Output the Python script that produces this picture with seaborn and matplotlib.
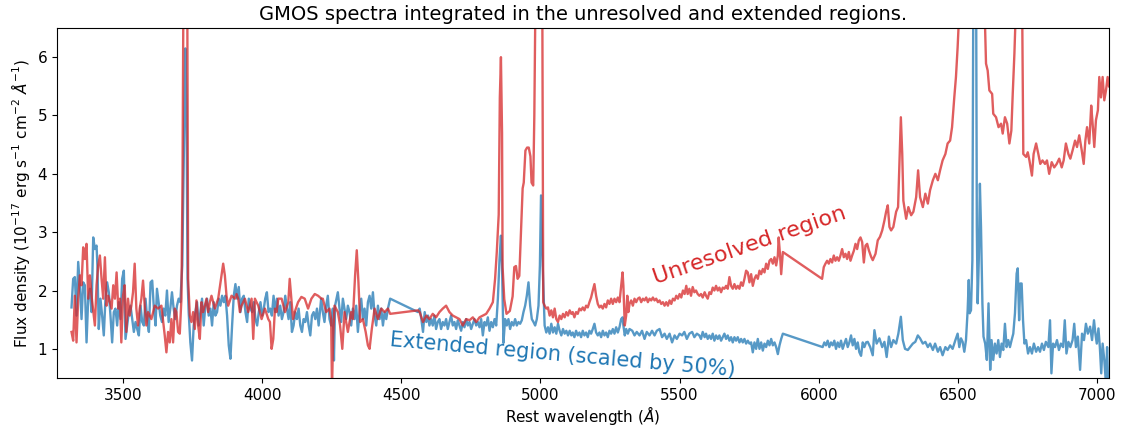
import matplotlib
matplotlib.use("Agg")
import matplotlib.pyplot as plt
import seaborn as sns
import pandas as pd

# ---- Unresolved region spectrum (wavelength in Angstrom, flux in 1e-17 erg/s/cm2/A)
red_wl = [3315, 3321, 3327, 3333, 3339, 3345, 3351, 3357, 3363, 3369, 3375, 3381, 3387, 3399, 3405, 3411,
          3417, 3423, 3429, 3435, 3441, 3447, 3459, 3465, 3471, 3477, 3483, 3489, 3494, 3500, 3506, 3512,
          3518, 3524, 3530, 3536, 3542, 3548, 3554, 3560, 3566, 3572, 3578, 3584, 3590, 3602, 3614, 3626,
          3638, 3650, 3656, 3662, 3668, 3674, 3680, 3686, 3692, 3698, 3704, 3710, 3714, 3718, 3726, 3731,
          3734, 3740, 3746, 3752, 3758, 3764, 3770, 3776, 3782, 3788, 3794, 3800, 3806, 3812, 3818, 3830,
          3842, 3854, 3860, 3866, 3872, 3878, 3890, 3902, 3908, 3914, 3920, 3926, 3938, 3950, 3962, 3968,
          3974, 3986, 3998, 4010, 4022, 4028, 4034, 4040, 4046, 4052, 4058, 4070, 4082, 4094, 4099, 4105,
          4111, 4117, 4129, 4141, 4153, 4165, 4177, 4189, 4201, 4213, 4218, 4230, 4242, 4248, 4251, 4255,
          4260, 4272, 4280, 4288, 4296, 4308, 4320, 4326, 4334, 4340, 4346, 4352, 4362, 4372, 4380, 4386,
          4394, 4404, 4416, 4428, 4440, 4452, 4460, 4560, 4566, 4578, 4590, 4601, 4613, 4625, 4637, 4649,
          4661, 4673, 4685, 4697, 4709, 4721, 4733, 4745, 4757, 4769, 4781, 4793, 4805, 4817, 4829, 4837,
          4843, 4850, 4854, 4858, 4862, 4864, 4870, 4878, 4890, 4900, 4906, 4912, 4918, 4924, 4930, 4936,
          4940, 4946, 4952, 4958, 4964, 4968, 4974, 4978, 4982, 4990, 5000, 5006, 5010,
          5015, 5021, 5027, 5033, 5039, 5045, 5051, 5057, 5063, 5069, 5075, 5081, 5087, 5093, 5099, 5105,
          5111, 5116, 5122, 5128, 5134, 5140, 5146, 5152, 5158, 5164, 5170, 5176, 5182, 5188, 5194, 5200,
          5206, 5212, 5218, 5224, 5230, 5236, 5242, 5248, 5254, 5260, 5266, 5272, 5278, 5284, 5290, 5295,
          5298, 5303, 5308, 5312, 5316, 5320, 5326, 5332, 5338, 5344, 5350, 5356, 5362, 5368, 5374, 5380,
          5386, 5392, 5398, 5404, 5410, 5416, 5422, 5428, 5434, 5440, 5446, 5452, 5458, 5464, 5470, 5476,
          5482, 5488, 5494, 5500, 5506, 5512, 5518, 5524, 5529, 5535, 5541, 5547, 5553, 5559, 5565, 5571,
          5577, 5583, 5590, 5595, 5601, 5607, 5613, 5619, 5625, 5631, 5637, 5643, 5649, 5655, 5661, 5667,
          5673, 5679, 5685, 5691, 5697, 5703, 5709, 5715, 5721, 5727, 5733, 5739, 5745, 5751, 5757, 5763,
          5769, 5775, 5781, 5787, 5793, 5799, 5805, 5811, 5817, 5823, 5829, 5835, 5841, 5847, 5853, 5856,
          5861, 5865, 5871, 6012, 6018, 6024, 6030, 6036, 6042, 6048, 6054, 6060, 6066, 6072, 6078, 6084,
          6090, 6096, 6102, 6108, 6114, 6120, 6126, 6132, 6138, 6144, 6150, 6156, 6162, 6168, 6174,
          6180, 6188, 6194, 6204, 6212, 6220, 6228, 6236, 6242, 6248, 6254, 6260,
          6268, 6278, 6285, 6290, 6295, 6300, 6304, 6314, 6322, 6332, 6340, 6350, 6357, 6364, 6374, 6383,
          6392, 6400, 6410, 6419, 6428, 6436, 6445, 6455, 6463, 6472, 6479, 6487, 6493, 6499, 6505, 6520,
          6540, 6560, 6580, 6595, 6601, 6607, 6613, 6623, 6627, 6637, 6646, 6655, 6661, 6669, 6677, 6685,
          6692, 6697, 6703, 6708, 6716, 6725, 6731, 6735, 6745, 6751, 6757, 6766, 6772, 6781, 6789, 6796,
          6804, 6813, 6820, 6828, 6837, 6846, 6855, 6864, 6873, 6880, 6888, 6897, 6904, 6912, 6921, 6928,
          6936, 6945, 6952, 6958, 6964, 6972, 6979, 6984, 6990, 6996, 7003, 7008, 7014, 7020, 7026, 7032,
          7038, 7043]
red_flux = [1.29, 1.14, 1.91, 1.11, 1.86, 2.26, 2.09, 2.74, 2.54, 2.80, 1.86, 2.26, 1.91, 1.40, 2.09, 2.43,
            2.60, 2.20, 1.86, 2.57, 1.74, 1.91, 1.69, 2.09, 1.86, 2.31, 1.69, 1.86, 1.11, 1.91, 2.09, 1.29,
            1.86, 1.57, 1.74, 1.97, 2.46, 1.69, 1.40, 1.69, 1.86, 2.17, 1.74, 1.40, 1.63, 1.51, 1.74, 1.69,
            1.74, 1.23, 0.94, 1.29, 1.11, 1.51, 1.11, 1.69, 1.63, 1.29, 1.26, 1.86, 4.00, 8.00, 9.00, 7.00,
            2.20, 1.57, 1.46, 1.63, 1.34, 1.83, 1.40, 1.17, 1.80, 1.63, 1.74, 1.86, 1.63, 1.80, 1.91, 1.69,
            1.86, 2.26, 2.46, 2.26, 1.91, 1.74, 1.91, 1.86, 1.94, 1.86, 1.63, 1.74, 1.86, 1.63, 1.86, 1.17,
            1.86, 1.74, 1.51, 1.69, 1.51, 1.46, 1.00, 1.17, 1.69, 1.63, 1.86, 1.86, 1.63, 1.80, 2.20, 1.86,
            1.51, 1.63, 1.80, 1.89, 1.86, 1.69, 1.86, 1.94, 1.91, 1.86, 1.86, 1.63, 1.69, 1.50, 0.30, 1.20,
            1.74, 1.63, 1.40, 1.00, 1.63, 1.29, 1.63, 1.51, 2.26, 2.69, 2.14, 1.46, 1.51, 1.29, 1.06, 1.00,
            1.34, 1.69, 1.51, 1.69, 1.63, 1.69, 1.60, 1.66, 1.63, 1.46, 1.57, 1.51, 1.60, 1.54, 1.63, 1.69,
            1.74, 1.63, 1.57, 1.54, 1.51, 1.40, 1.51, 1.49, 1.54, 1.46, 1.54, 1.57, 1.60, 1.69, 1.80, 2.20,
            2.65, 3.30, 5.30, 6.00, 4.70, 2.40, 1.85, 1.60, 1.65, 1.90, 2.40, 2.42, 2.20, 2.25, 3.00, 3.75,
            3.85, 4.40, 4.45, 4.45, 4.30, 3.85, 3.80, 5.00, 7.00, 8.50, 9.00, 8.00, 1.80,
            1.74, 1.69, 1.71, 1.57, 1.66, 1.54, 1.69, 1.51, 1.46, 1.57, 1.51, 1.60, 1.54, 1.63, 1.57, 1.66,
            1.60, 1.63, 1.54, 1.63, 1.60, 1.69, 1.66, 1.71, 1.66, 1.74, 1.71, 1.80, 1.88, 2.00, 2.11, 1.91,
            1.77, 1.71, 1.74, 1.69, 1.77, 1.71, 1.83, 1.77, 1.86, 1.77, 1.86, 1.80, 1.88, 1.80, 2.08, 2.31,
            2.08, 1.40, 1.57, 1.91, 1.63, 1.77, 1.83, 1.74, 1.86, 1.80, 1.86, 1.88, 1.80, 1.86, 1.83, 1.88,
            1.80, 1.86, 1.83, 1.88, 1.83, 1.86, 1.80, 1.83, 1.77, 1.80, 1.74, 1.80, 1.74, 1.83, 1.77, 1.86,
            1.83, 1.91, 1.86, 1.94, 1.88, 2.00, 1.94, 2.08, 1.94, 2.03, 1.91, 2.06, 1.97, 2.00, 1.94, 1.91,
            1.94, 1.88, 1.97, 1.91, 1.86, 1.97, 1.94, 2.05, 2.00, 2.08, 2.00, 2.05, 1.97, 2.05, 2.03, 2.08,
            2.03, 2.23, 2.08, 2.03, 2.11, 2.03, 2.08, 2.03, 2.14, 2.08, 2.20, 2.34, 2.31, 2.14, 2.28, 2.08,
            2.20, 2.26, 2.20, 2.34, 2.28, 2.37, 2.31, 2.46, 2.37, 2.51, 2.54, 2.46, 2.57, 2.43, 2.60, 2.91,
            2.60, 2.28, 2.66, 2.20, 2.40, 2.46, 2.51, 2.46, 2.54, 2.48, 2.60, 2.51, 2.57, 2.51, 2.60, 2.71,
            2.57, 2.63, 2.54, 2.66, 2.51, 2.60, 2.68, 2.80, 2.71, 2.86, 2.91, 2.83, 2.48, 2.77, 2.80,
            2.69, 2.58, 2.52, 2.63, 2.86, 2.92, 3.03, 3.20, 3.35, 3.46, 3.09, 3.03,
            3.09, 3.35, 3.43, 4.23, 4.97, 4.34, 3.54, 3.23, 3.43, 3.29, 3.35, 3.60, 4.06, 3.60, 3.43, 3.66,
            3.49, 3.72, 3.89, 4.00, 3.89, 4.06, 4.23, 4.34, 4.52, 4.57, 4.80, 5.31, 5.66, 6.17, 6.80, 7.50,
            8.50, 10.0, 9.00, 7.00, 5.89, 5.77, 5.43, 5.37, 5.03, 4.97, 4.80, 4.86, 4.69, 4.97, 4.86, 4.52,
            4.74, 5.37, 6.06, 6.80, 7.50, 7.20, 6.80, 4.34, 4.29, 4.37, 4.23, 3.97, 4.34, 4.52, 4.34, 4.17,
            4.23, 4.17, 4.23, 4.00, 4.20, 4.11, 4.17, 4.26, 4.11, 4.23, 4.52, 4.34, 4.26, 4.40, 4.57, 4.46,
            4.66, 4.40, 4.17, 4.57, 4.80, 4.52, 5.17, 4.86, 4.46, 4.92, 5.09, 5.66, 5.31, 5.66, 5.26, 5.43,
            5.66, 5.50]

# ---- Extended region spectrum (scaled by 50%)
blue_wl = [3315, 3321, 3327, 3333, 3339, 3345, 3351, 3357, 3363, 3369, 3375, 3381, 3387, 3393, 3399, 3405,
           3408, 3413, 3419, 3425, 3431, 3437, 3443, 3449, 3455, 3461, 3467, 3473, 3479, 3485, 3491, 3497,
           3503, 3509, 3515, 3521, 3527, 3533, 3539, 3545, 3551, 3557, 3563, 3569, 3575, 3581, 3587, 3593,
           3599, 3605, 3611, 3617, 3622, 3628, 3634, 3640, 3646, 3652, 3658, 3664, 3670, 3676, 3682, 3688,
           3694, 3700, 3706, 3713, 3719, 3724, 3728, 3732, 3736, 3742, 3748, 3754, 3760, 3766, 3772, 3778,
           3784, 3790, 3796, 3802, 3808, 3814, 3820, 3826, 3832, 3838, 3844, 3850, 3856, 3862, 3868, 3874,
           3880, 3886, 3892, 3898, 3904, 3910, 3916, 3922, 3928, 3934, 3940, 3946, 3952, 3958, 3964, 3970,
           3976, 3982, 3988, 3994, 4000, 4006, 4011, 4017, 4023, 4029, 4035, 4041, 4047, 4053, 4059, 4065,
           4071, 4077, 4083, 4089, 4095, 4101, 4107, 4113, 4119, 4125, 4131, 4137, 4143, 4149, 4155, 4161,
           4167, 4173, 4179, 4185, 4191, 4197, 4203, 4212, 4218, 4224, 4230, 4236, 4242, 4248, 4254, 4258,
           4262, 4272, 4278, 4284, 4290, 4296, 4302, 4308, 4314, 4320, 4326, 4332, 4338, 4344, 4350, 4356,
           4362, 4368, 4374, 4380, 4386, 4392, 4398, 4404, 4410, 4416, 4422, 4428, 4434, 4440, 4446, 4452,
           4460, 4560, 4566, 4572, 4578, 4584, 4590, 4596, 4601, 4607, 4613, 4619, 4625, 4631, 4637, 4643,
           4649, 4655, 4661, 4667, 4673, 4679, 4685, 4691, 4697, 4703, 4709, 4715, 4721, 4727, 4733, 4739,
           4745, 4751, 4757, 4763, 4769, 4775, 4781, 4787, 4793, 4799, 4805, 4811, 4817, 4823, 4829, 4835,
           4841, 4847, 4853, 4858, 4862, 4867, 4873, 4879, 4885, 4891, 4897, 4903, 4909, 4915, 4921, 4927,
           4933, 4939, 4945, 4951, 4957, 4963, 4969, 4975, 4981, 4987, 4993, 4998, 5002, 5008,
           5015, 5021, 5027, 5033, 5039, 5045, 5051, 5057, 5063, 5069, 5075, 5081, 5087, 5093, 5099, 5105,
           5111, 5116, 5122, 5128, 5134, 5140, 5146, 5152, 5158, 5164, 5170, 5176, 5182, 5188, 5194, 5200,
           5206, 5212, 5218, 5224, 5230, 5236, 5242, 5248, 5254, 5260, 5266, 5272, 5278, 5284, 5290, 5295,
           5298, 5303, 5308, 5314, 5320,
           5330, 5338, 5346, 5356, 5365, 5374, 5382, 5392, 5401, 5410, 5418, 5428, 5437, 5446, 5454, 5464,
           5473, 5482, 5490, 5500, 5509, 5517, 5526, 5535, 5545, 5553, 5562,
           5571, 5577, 5583, 5590, 5595, 5601, 5607, 5613, 5619, 5625, 5631, 5637, 5643, 5649, 5655, 5661,
           5667, 5673, 5679, 5685, 5691, 5697, 5703, 5709, 5715, 5721, 5727, 5733, 5739, 5745, 5751, 5757,
           5763, 5769, 5775, 5781, 5787, 5793, 5799, 5805, 5811, 5817, 5823, 5829, 5835, 5841, 5847, 5853,
           5859, 5865, 5871, 6014, 6020, 6026, 6032, 6038, 6044, 6050, 6056, 6062, 6068, 6074, 6080, 6086,
           6092, 6098, 6104, 6110, 6116, 6122, 6128, 6134, 6140, 6146, 6152, 6158, 6164, 6170,
           6176, 6185, 6194, 6200, 6208, 6218, 6228, 6236, 6244, 6252, 6260, 6268, 6278, 6286, 6295, 6302,
           6310, 6320, 6328, 6338, 6347, 6356, 6364, 6374, 6383, 6392, 6400, 6410, 6418, 6428, 6436, 6445,
           6455, 6463, 6472, 6481, 6491, 6499, 6505, 6511, 6517, 6523, 6529, 6535, 6539, 6542, 6547, 6552,
           6556, 6560, 6565, 6568, 6571, 6575, 6579, 6583, 6588, 6592, 6598, 6604, 6610, 6616, 6621, 6627,
           6633, 6639, 6645, 6651, 6657, 6663, 6669, 6675, 6681, 6687, 6693, 6699, 6705, 6711, 6715, 6720,
           6724, 6729, 6734, 6739, 6745, 6752, 6759, 6766, 6773, 6781, 6788, 6795, 6802, 6809, 6816, 6825,
           6831, 6836, 6842, 6849, 6856, 6863, 6870, 6878, 6884, 6890, 6897, 6904, 6912, 6918, 6924, 6931,
           6939, 6946, 6953, 6960, 6967, 6975, 6982, 6989, 6994, 6999, 7005, 7010, 7015, 7020, 7026, 7032,
           7036, 7040]
blue_flux = [1.71, 2.20, 2.23, 1.57, 2.49, 2.09, 1.51, 2.14, 2.09, 1.11, 1.86, 2.03, 1.63, 2.91, 2.71, 2.77,
             2.43, 1.34, 1.86, 1.57, 1.23, 1.86, 2.14, 1.97, 1.57, 1.11, 1.63, 1.69, 1.40, 1.80, 1.51, 2.20,
             2.34, 1.17, 1.40, 1.63, 1.74, 1.51, 1.29, 1.46, 1.34, 1.23, 1.74, 1.46, 1.40, 1.86, 1.51, 1.29,
             2.14, 2.17, 1.69, 1.40, 2.03, 1.80, 1.57, 1.46, 1.69, 1.57, 2.00, 1.46, 1.69, 1.97, 1.69, 1.51,
             1.74, 1.86, 1.80, 2.43, 4.50, 6.15, 5.20, 2.20, 1.63, 1.11, 0.80, 1.40, 1.63, 1.80, 1.40, 1.63,
             1.86, 1.40, 1.74, 1.86, 1.57, 1.69, 1.40, 1.80, 1.57, 1.63, 1.86, 1.74, 1.91, 1.80, 1.91, 1.57,
             1.06, 0.83, 1.40, 1.91, 2.11, 1.86, 2.06, 1.63, 1.86, 1.91, 1.63, 1.46, 1.86, 1.69, 1.63, 1.80,
             1.51, 1.40, 1.63, 1.80, 1.57, 1.69, 1.86, 1.97, 1.63, 1.69, 1.57, 1.91, 1.63, 1.86, 1.57, 1.74,
             1.51, 1.63, 1.91, 1.69, 1.51, 1.80, 1.29, 1.40, 1.63, 1.51, 1.69, 1.40, 1.29, 1.51, 1.46, 1.63,
             1.40, 1.23, 1.57, 1.63, 1.51, 1.69, 1.40, 1.86, 1.63, 1.46, 1.74, 1.91, 1.51, 1.40, 1.69, 0.80,
             1.74, 1.97, 1.69, 1.46, 1.86, 1.69, 1.51, 1.74, 1.63, 1.40, 1.69, 1.51, 1.74, 1.29, 1.63, 1.86,
             1.51, 1.69, 1.40, 1.80, 1.91, 1.69, 1.97, 1.57, 1.40, 1.74, 1.51, 1.69, 1.40, 1.63, 1.51, 1.69,
             1.86, 1.63, 1.69, 1.51, 1.29, 1.63, 1.46, 1.57, 1.40, 1.51, 1.40, 1.57, 1.34, 1.46, 1.51, 1.34,
             1.46, 1.40, 1.51, 1.34, 1.46, 1.57, 1.40, 1.46, 1.34, 1.49, 1.40, 1.31, 1.46, 1.37, 1.51, 1.40,
             1.46, 1.34, 1.43, 1.51, 1.40, 1.46, 1.37, 1.51, 1.23, 1.46, 1.40, 1.54, 1.31, 1.46, 1.37, 1.51,
             1.40, 1.86, 2.54, 2.94, 2.43, 1.10, 1.51, 1.40, 1.51, 1.34, 1.46, 1.40, 1.51, 1.40, 1.46, 1.43,
             1.49, 1.63, 1.74, 1.91, 2.14, 1.74, 1.51, 1.46, 1.40, 1.51, 1.74, 2.43, 3.63, 2.43,
             1.40, 1.28, 1.37, 1.26, 1.43, 1.28, 1.37, 1.26, 1.43, 1.31, 1.23, 1.34, 1.26, 1.31, 1.23, 1.31,
             1.23, 1.28, 1.20, 1.31, 1.23, 1.28, 1.20, 1.31, 1.23, 1.28, 1.20, 1.31, 1.26, 1.34, 1.43, 1.28,
             1.23, 1.28, 1.20, 1.31, 1.23, 1.28, 1.20, 1.31, 1.26, 1.34, 1.26, 1.37, 1.28, 1.37, 1.51, 1.54,
             1.40, 1.23, 1.34, 1.26, 1.34,
             1.31, 1.23, 1.29, 1.23, 1.31, 1.17, 1.29, 1.23, 1.31, 1.23, 1.31, 1.34, 1.20, 1.26, 1.17, 1.26,
             1.11, 1.23, 1.17, 1.26, 1.23, 1.29, 1.17, 1.26, 1.29, 1.20, 1.26,
             1.23, 1.17, 1.29, 1.20, 1.26, 1.17, 1.23, 1.17, 1.26, 1.14, 1.23, 1.17, 1.23, 1.14, 1.20, 1.26,
             1.17, 1.23, 1.14, 1.20, 1.11, 1.20, 1.14, 1.20, 1.11, 1.17, 1.11, 1.17, 1.09, 1.14, 1.09, 1.11,
             0.94, 1.11, 1.00, 1.17, 1.00, 1.11, 0.97, 1.09, 1.03, 1.14, 1.06, 1.17, 1.06, 1.11, 1.03, 0.91,
             1.06, 1.17, 1.26, 1.03, 1.11, 1.06, 1.14, 1.03, 1.11, 1.06, 1.14, 1.00, 1.11, 1.03, 1.14, 1.00,
             1.09, 1.17, 1.03, 1.11, 1.23, 1.06, 1.17, 1.00, 1.11, 0.94, 0.88, 1.11, 1.03, 1.11,
             1.12, 1.03, 0.89, 1.32, 1.09, 1.18, 1.03, 1.12, 0.86, 1.21, 1.03, 1.15, 1.09, 1.26, 1.55, 1.15,
             1.00, 0.98, 1.03, 1.09, 1.12, 1.23, 1.18, 1.09, 1.12, 1.03, 1.09, 0.98, 1.09, 0.95, 1.03, 0.89,
             1.03, 0.98, 1.06, 1.00, 1.15, 1.26, 1.03, 1.18, 1.12, 0.95, 1.15, 1.66, 2.18, 1.61, 1.66, 2.52,
             8.00, 10.0, 8.00, 3.09, 1.78, 2.52, 3.83, 3.09, 1.78, 1.21, 1.09, 0.81, 1.78, 0.64, 1.15, 0.81,
             1.09, 0.92, 1.15, 0.86, 1.09, 0.98, 1.43, 1.03, 1.15, 1.03, 1.15, 1.26, 1.61, 2.29, 2.38, 1.49,
             2.12, 2.12, 1.49, 1.09, 1.15, 0.92, 1.03, 0.92, 1.09, 0.95, 1.03, 0.95, 1.09, 0.98, 1.12, 1.03,
             1.49, 0.58, 1.09, 1.03, 1.15, 0.98, 1.09, 1.03, 1.49, 0.92, 1.12, 1.03, 1.15, 1.43, 1.03, 1.21,
             0.64, 1.26, 1.15, 1.43, 1.26, 1.38, 1.15, 1.49, 1.26, 1.09, 1.35, 1.03, 0.58, 1.09, 0.81, 0.40,
             1.03, 0.35]

xticks = [3500, 4000, 4500, 5000, 5500, 6000, 6500, 7000]
yticks = [1, 2, 3, 4, 5, 6]

red_df = pd.DataFrame({"wl": red_wl, "flux": red_flux})
blue_df = pd.DataFrame({"wl": blue_wl, "flux": blue_flux})

fig = plt.figure(figsize=(11.25, 4.28), dpi=100)
ax = fig.add_axes([0.0507, 0.1168, 0.9351, 0.8178])

sns.lineplot(data=blue_df, x="wl", y="flux", ax=ax, color="tab:blue", alpha=0.75,
             linewidth=1.7, estimator=None, sort=False)
sns.lineplot(data=red_df, x="wl", y="flux", ax=ax, color="tab:red", alpha=0.75,
             linewidth=1.7, estimator=None, sort=False)

ax.set_xlim(3263, 7043)
ax.set_ylim(0.5, 6.5)
ax.set_xticks(xticks)
ax.set_yticks(yticks)
ax.tick_params(labelsize=11)

ax.set_xlabel(r"Rest wavelength ($\AA$)", fontsize=11, labelpad=1)
ax.set_ylabel(r"Flux density (10$^{-17}$ erg s$^{-1}$ cm$^{-2}$ $\AA^{-1}$)", fontsize=11)
ax.set_title("GMOS spectra integrated in the unresolved and extended regions.", fontsize=14)

ax.text(5750, 2.77, "Unresolved region", color="tab:red", fontsize=16, rotation=19,
        ha="center", va="center", rotation_mode="anchor")
ax.text(5079, 0.90, "Extended region (scaled by 50%)", color="tab:blue", fontsize=15,
        rotation=-5, ha="center", va="center", rotation_mode="anchor")

fig.savefig("out.png", dpi=100)
